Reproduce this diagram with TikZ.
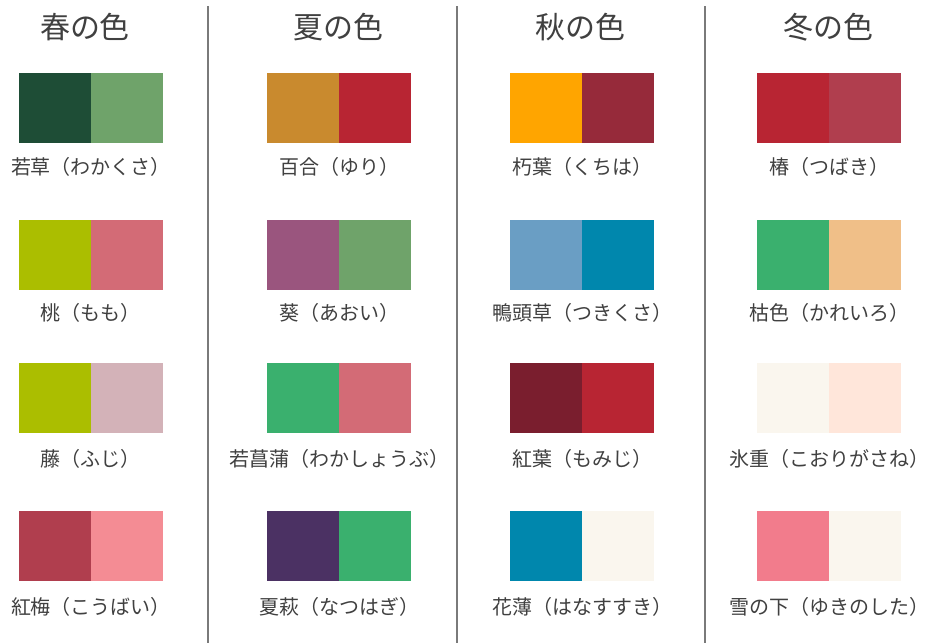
\documentclass[tikz,border=0pt]{standalone}
\usepackage{fontspec}
\setmainfont{Noto Sans CJK JP}
\definecolor{txt}{HTML}{404040}
\definecolor{sep}{HTML}{7A7A7A}
\definecolor{a1}{HTML}{1E4D36}\definecolor{a2}{HTML}{6FA36A}
\definecolor{b1}{HTML}{C98A2E}\definecolor{b2}{HTML}{B82533}
\definecolor{c1}{HTML}{FFA500}\definecolor{c2}{HTML}{962A3A}
\definecolor{d1}{HTML}{B82533}\definecolor{d2}{HTML}{B03E4E}
\definecolor{e1}{HTML}{ABBE00}\definecolor{e2}{HTML}{D36B76}
\definecolor{f1}{HTML}{9A557E}\definecolor{f2}{HTML}{6FA36A}
\definecolor{g1}{HTML}{6A9EC4}\definecolor{g2}{HTML}{0087AD}
\definecolor{h1}{HTML}{3AB06E}\definecolor{h2}{HTML}{F0BF88}
\definecolor{i1}{HTML}{ABBE00}\definecolor{i2}{HTML}{D3B2B8}
\definecolor{j1}{HTML}{3AB06E}\definecolor{j2}{HTML}{D36B76}
\definecolor{k1}{HTML}{7A1E2E}\definecolor{k2}{HTML}{B82533}
\definecolor{l1}{HTML}{FAF6EE}\definecolor{l2}{HTML}{FFE6DA}
\definecolor{m1}{HTML}{B03E4E}\definecolor{m2}{HTML}{F48C94}
\definecolor{n1}{HTML}{4B3163}\definecolor{n2}{HTML}{3AB06E}
\definecolor{o1}{HTML}{0087AD}\definecolor{o2}{HTML}{FAF6EE}
\definecolor{p1}{HTML}{F27C8C}\definecolor{p2}{HTML}{FAF6EE}
\tikzset{
  swatch/.style={minimum width=72pt, minimum height=70pt, inner sep=0pt, outer sep=0pt, draw=none},
  label/.style={text=txt, font=\fontsize{20}{22}\selectfont, inner sep=0pt},
  title/.style={text=txt, font=\fontsize{30}{32}\selectfont, inner sep=0pt},
  seprule/.style={draw=sep, line width=1.6pt}
}
\begin{document}
\begin{tikzpicture}[x=1pt,y=-1pt]
\useasboundingbox[fill=white] (0,0) rectangle (930,643);
% separators
\draw[seprule] (208,6) -- (208,643);
\draw[seprule] (457,6) -- (457,643);
\draw[seprule] (705,6) -- (705,643);
% titles
\node[title] (t1) at (85,27) {春の色};
\node[title] (t2) at (338,27) {夏の色};
\node[title] (t3) at (580,27) {秋の色};
\node[title] (t4) at (828,27) {冬の色};
% swatches: (left colour, right colour, split x, top y)
\foreach \name/\ca/\cb/\sx/\ty in {
  s11/a1/a2/91/73, s21/b1/b2/339/73, s31/c1/c2/582/73, s41/d1/d2/829/73,
  s12/e1/e2/91/220, s22/f1/f2/339/220, s32/g1/g2/582/220, s42/h1/h2/829/220,
  s13/i1/i2/91/363, s23/j1/j2/339/363, s33/k1/k2/582/363, s43/l1/l2/829/363,
  s14/m1/m2/91/511, s24/n1/n2/339/511, s34/o1/o2/582/511, s44/p1/p2/829/511}{
  \node[swatch, fill=\ca, anchor=north east] (\name a) at (\sx,\ty) {};
  \node[swatch, fill=\cb, anchor=north west] (\name b) at (\sx,\ty) {};
}
% labels
\node[label] (l11) at (91,167) {若草（わかくさ）};
\node[label] (l21) at (339,167) {百合（ゆり）};
\node[label] (l31) at (582,167) {朽葉（くちは）};
\node[label] (l41) at (829,167) {椿（つばき）};
\node[label] (l12) at (91,313) {桃（もも）};
\node[label] (l22) at (339,313) {葵（あおい）};
\node[label] (l32) at (582,313) {鴨頭草（つきくさ）};
\node[label] (l42) at (829,313) {枯色（かれいろ）};
\node[label] (l13) at (91,459) {藤（ふじ）};
\node[label] (l23) at (339,459) {若菖蒲（わかしょうぶ）};
\node[label] (l33) at (582,459) {紅葉（もみじ）};
\node[label] (l43) at (829,459) {氷重（こおりがさね）};
\node[label] (l14) at (91,607) {紅梅（こうばい）};
\node[label] (l24) at (339,607) {夏萩（なつはぎ）};
\node[label] (l34) at (582,607) {花薄（はなすすき）};
\node[label] (l44) at (829,607) {雪の下（ゆきのした）};
\end{tikzpicture}
\end{document}
